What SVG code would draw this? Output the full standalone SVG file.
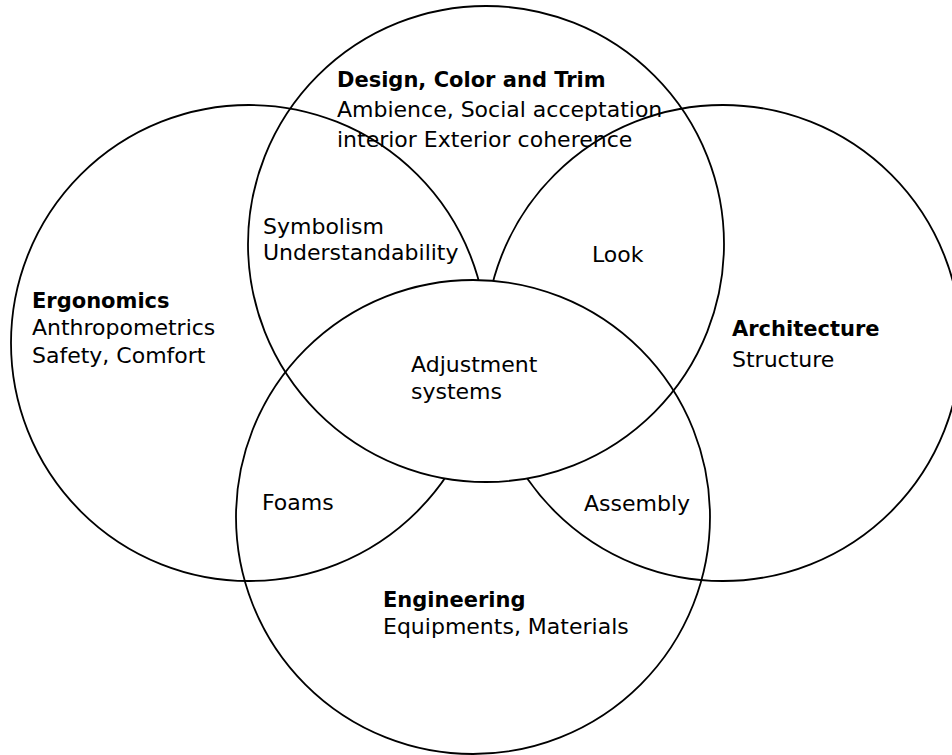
<svg xmlns="http://www.w3.org/2000/svg" width="952" height="755" viewBox="0 0 952 755">
  <style>
    .ring { fill: none; stroke: #000; stroke-width: 1.8; }
    .lens { fill: #fff; stroke: none; }
    text { font-family: "DejaVu Sans", Verdana, sans-serif; font-size: 22px; fill: #000; }
    .title { font-weight: bold; font-size: 21px; }
  </style>
  <defs>
    <clipPath id="designClip">
      <circle cx="486" cy="244" r="238"/>
    </clipPath>
  </defs>
  <rect x="0" y="0" width="952" height="755" fill="#fff"/>

  <g id="ergonomics">
    <circle class="ring" cx="249" cy="343" r="238"/>
    <text class="title" x="32" y="308">Ergonomics</text>
    <text x="32" y="335">Anthropometrics</text>
    <text x="32" y="363">Safety, Comfort</text>
  </g>

  <g id="architecture">
    <circle class="ring" cx="723" cy="343" r="238"/>
    <text class="title" x="732" y="336">Architecture</text>
    <text x="732" y="367">Structure</text>
  </g>

  <g id="adjustment-systems">
    <circle class="lens" cx="473" cy="517" r="237" clip-path="url(#designClip)"/>
    <text x="411" y="372">Adjustment</text>
    <text x="411" y="399">systems</text>
  </g>

  <g id="design-color-trim">
    <circle class="ring" cx="486" cy="244" r="238"/>
    <text class="title" x="337" y="87">Design, Color and Trim</text>
    <text x="337" y="117">Ambience, Social acceptation</text>
    <text x="337" y="147">interior Exterior coherence</text>
  </g>

  <g id="engineering">
    <circle class="ring" cx="473" cy="517" r="237"/>
    <text class="title" x="383" y="607">Engineering</text>
    <text x="383" y="634">Equipments, Materials</text>
  </g>

  <g id="symbolism">
    <text x="263" y="234">Symbolism</text>
    <text x="263" y="260">Understandability</text>
  </g>
  <g id="look">
    <text x="592" y="262">Look</text>
  </g>
  <g id="foams">
    <text x="262" y="510">Foams</text>
  </g>
  <g id="assembly">
    <text x="584" y="511">Assembly</text>
  </g>

  <g id="connectors"></g>
</svg>
